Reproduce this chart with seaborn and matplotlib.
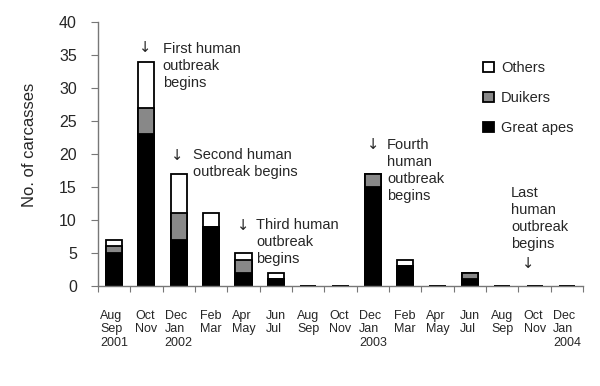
import matplotlib
matplotlib.use("Agg")
import matplotlib.pyplot as plt
import seaborn as sns
import pandas as pd
from matplotlib.patches import Patch

# --- data ---
periods = ["2001-08", "2001-10", "2001-12", "2002-02", "2002-04", "2002-06",
           "2002-08", "2002-10", "2002-12", "2003-02", "2003-04", "2003-06",
           "2003-08", "2003-10", "2003-12"]
tick_labels = ["Aug\nSep\n2001", "Oct\nNov", "Dec\nJan\n2002", "Feb\nMar",
               "Apr\nMay", "Jun\nJul", "Aug\nSep", "Oct\nNov",
               "Dec\nJan\n2003", "Feb\nMar", "Apr\nMay", "Jun\nJul",
               "Aug\nSep", "Oct\nNov", "Dec\nJan\n2004"]
great_apes = [5, 23, 7, 9, 2, 1, 0, 0, 15, 3, 0, 1, 0, 0, 0]
duikers = [1, 4, 4, 0, 2, 0, 0, 0, 2, 0, 0, 1, 0, 0, 0]
others = [1, 7, 6, 2, 1, 1, 0, 0, 0, 1, 0, 0, 0, 0, 0]

df = pd.DataFrame({"period": periods, "great_apes": great_apes,
                   "duikers": duikers, "others": others})
df["apes_duikers"] = df["great_apes"] + df["duikers"]
df["total"] = df["apes_duikers"] + df["others"]

sns.set_style("ticks")
plt.rcParams["font.family"] = ["Liberation Sans", "DejaVu Sans"]

fig = plt.figure(figsize=(6.0, 3.86), dpi=100)
ax = fig.add_axes([0.163, 0.259, 0.809, 0.684])

# stacked bars drawn as layered cumulative totals
bar_kw = dict(x="period", order=periods, width=0.5, edgecolor="black",
              linewidth=1.3, ax=ax, saturation=1)
sns.barplot(data=df, y="total", color="white", **bar_kw)
sns.barplot(data=df, y="apes_duikers", color="#888888", **bar_kw)
sns.barplot(data=df, y="great_apes", color="black", **bar_kw)

ax.set_xlim(-0.5, len(periods) - 0.5)
ax.set_ylim(0, 40)
ax.set_yticks(range(0, 41, 5))
ax.tick_params(axis="y", labelsize=11.5, length=5, color="#777777", pad=10)

# boundary ticks, labels at the centres
ax.set_xticks([i - 0.5 for i in range(len(periods) + 1)])
ax.set_xticklabels([])
ax.set_xticks(range(len(periods)), minor=True)
ax.set_xticklabels(tick_labels, minor=True, fontsize=9, ha="center",
                   multialignment="left", va="top", linespacing=1.2)
ax.tick_params(axis="x", which="major", length=4, color="#777777")
ax.tick_params(axis="x", which="minor", length=0, pad=17)

ax.set_xlabel("")
ax.set_ylabel("No. of carcasses", fontsize=12)
ax.yaxis.set_label_coords(-0.125, 0.533)

sns.despine(ax=ax)
for side in ("left", "bottom"):
    ax.spines[side].set_color("#777777")
    ax.spines[side].set_linewidth(1.0)

# outbreak annotations
note_kw = dict(fontsize=10.5, va="top", ha="left", linespacing=1.27)
arrow_kw = dict(fontsize=10.5, va="center", ha="center", family="DejaVu Sans")
ax.text(0.954, 36.1, "\u2193", **arrow_kw)
ax.text(1.51, 37.0, "First human\noutbreak\nbegins", **note_kw)
ax.text(1.94, 19.85, "\u2193", **arrow_kw)
ax.text(2.44, 20.9, "Second human\noutbreak begins", **note_kw)
ax.text(3.98, 9.1, "\u2193", **arrow_kw)
ax.text(4.40, 10.3, "Third human\noutbreak\nbegins", **note_kw)
ax.text(8.01, 21.4, "\u2193", **arrow_kw)
ax.text(8.44, 22.4, "Fourth\nhuman\noutbreak\nbegins", **note_kw)
ax.text(12.27, 15.15, "Last\nhuman\noutbreak\nbegins", **note_kw)
ax.text(12.8, 3.4, "\u2193", **arrow_kw)

handles = [Patch(facecolor="white", edgecolor="black", linewidth=1.3),
           Patch(facecolor="#888888", edgecolor="black", linewidth=1.3),
           Patch(facecolor="black", edgecolor="black", linewidth=1.3)]
fig.legend(handles, ["Others", "Duikers", "Great apes"], loc="upper left",
           bbox_to_anchor=(0.795, 0.857), frameon=False, fontsize=10.5,
           handlelength=0.75, handleheight=0.75, handletextpad=0.5,
           labelspacing=1.1, borderaxespad=0)

fig.savefig("out.png", dpi=100)
